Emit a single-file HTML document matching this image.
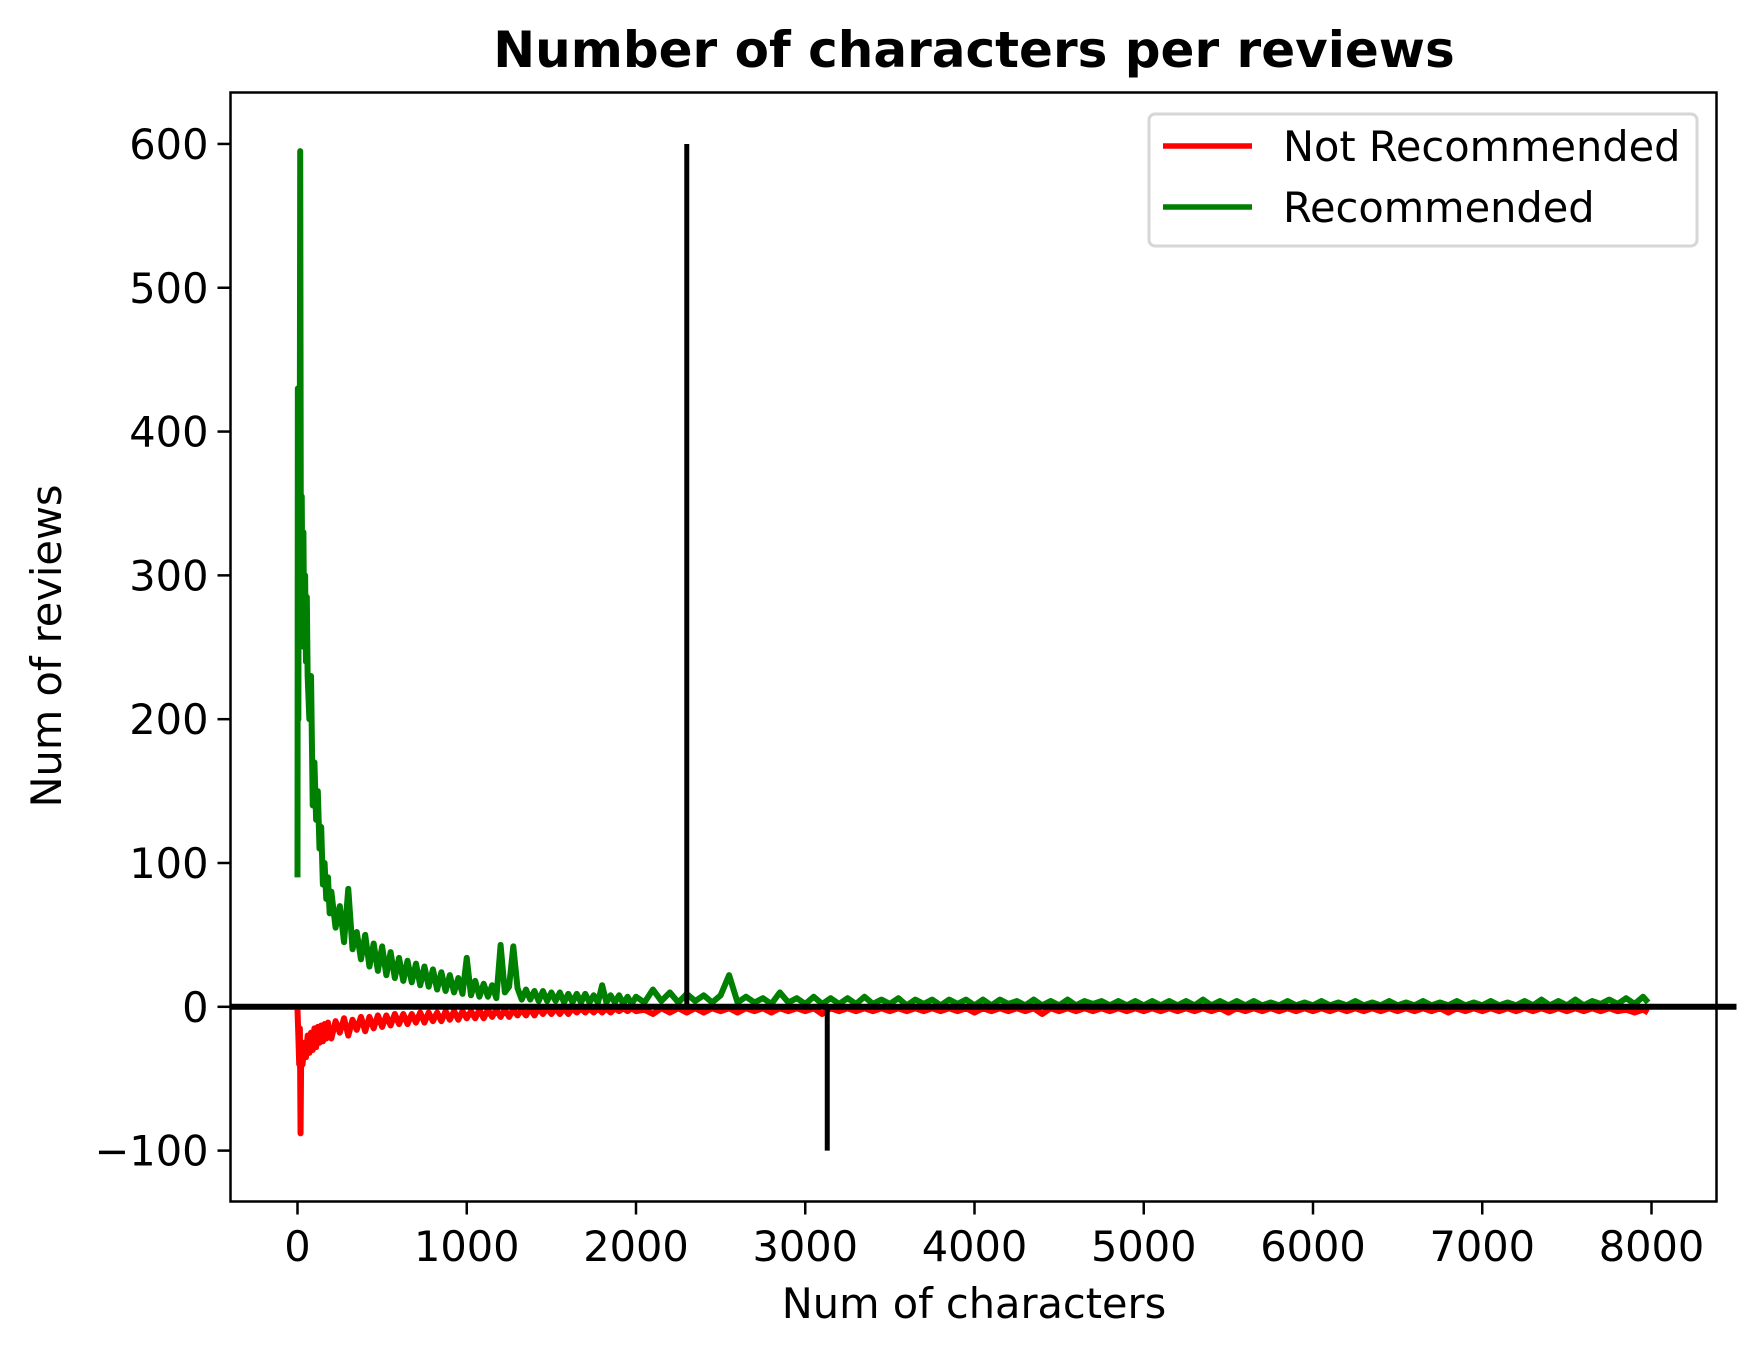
<!DOCTYPE html>
<html><head><meta charset="utf-8">
<style>
html,body{margin:0;padding:0;background:#fff;}
svg{display:block;font-family:"DejaVu Sans","Liberation Sans",sans-serif;}
</style></head>
<body>
<svg id="chart" width="1748" height="1357" viewBox="0 0 1748 1357" xmlns="http://www.w3.org/2000/svg">
<rect x="0" y="0" width="1748" height="1357" fill="#fff"/>
<text x="974" y="67" text-anchor="middle" font-size="50" font-weight="bold">Number of characters per reviews</text>
<g id="plot"></g>
<g id="axes"></g>
<text x="974" y="1318" text-anchor="middle" font-size="41.5">Num of characters</text>
<text transform="translate(61,646) rotate(-90)" text-anchor="middle" font-size="41.5">Num of reviews</text>
<g>
<rect x="1149" y="114" width="548" height="132" rx="6" fill="#fff" stroke="#d6d6d6" stroke-width="3"/>
<line x1="1163" y1="146" x2="1252" y2="146" stroke="#ff0000" stroke-width="5.5"/>
<text x="1283" y="161" font-size="41.5">Not Recommended</text>
<line x1="1163" y1="207" x2="1252" y2="207" stroke="#008000" stroke-width="5.5"/>
<text x="1283" y="222" font-size="41.5">Recommended</text>
</g>
</svg>
<script>
const recEarlyX = [0,2,5,8,12,16,20,25,30,35,40,45,50,55,60,70,80,90,100,110,120,130,140,150,160,170,180,190];
const recEarlyY = [90,430,200,380,250,595,300,355,260,330,250,300,240,285,230,200,230,140,170,130,150,110,125,85,100,75,90,65];
const notEarlyX = [0,5,10,14,18,22,30,40,50,60,70,80,90,100,110,120,130,140,150,160,170,180,190];
const notEarlyY = [-2,-20,-40,-15,-88,-30,-40,-25,-35,-20,-32,-18,-30,-15,-28,-14,-25,-13,-24,-12,-22,-11,-20];
const headX = [200,225,250,275,300,325,350,375,400,425,450,475,500,525,550,575,600,625,650,675,700,725,750,775,800,825,850,875,900,925,950,975,1000,1025,1050,1075,1100,1125,1150,1175,1200,1225,1250,1275,1300,1325,1350,1375,1400,1425,1450,1475,1500,1525,1550,1575,1600,1625,1650,1675,1700,1725,1750,1775,1800,1825,1850,1875,1900,1925,1950,1975,2000];
const recHeadY = [80,55,70,45,82,40,52,33,50,28,44,25,42,22,38,20,34,18,32,17,30,15,28,14,26,12,24,11,22,10,20,9,34,8,18,7,16,7,15,6,43,10,14,42,13,5,12,5,11,4,11,4,10,4,10,3,9,3,9,3,9,3,8,3,15,3,8,3,8,2,7,2,7];
const notHeadY = [-22,-10,-18,-8,-20,-9,-16,-7,-17,-7,-15,-6,-14,-6,-13,-5,-12,-5,-12,-5,-11,-4,-11,-4,-10,-4,-10,-3,-9,-3,-9,-3,-8,-3,-8,-2,-8,-2,-7,-2,-7,-2,-7,-2,-6,-2,-6,-1,-6,-1,-5,-1,-5,-1,-5,-1,-5,-1,-4,-1,-4,-1,-4,-1,-4,-1,-4,-1,-3,-1,-3,-1,-3];
const tailX = [2050,2100,2150,2200,2250,2300,2350,2400,2450,2500,2550,2600,2650,2700,2750,2800,2850,2900,2950,3000,3050,3100,3150,3200,3250,3300,3350,3400,3450,3500,3550,3600,3650,3700,3750,3800,3850,3900,3950,4000,4050,4100,4150,4200,4250,4300,4350,4400,4450,4500,4550,4600,4650,4700,4750,4800,4850,4900,4950,5000,5050,5100,5150,5200,5250,5300,5350,5400,5450,5500,5550,5600,5650,5700,5750,5800,5850,5900,5950,6000,6050,6100,6150,6200,6250,6300,6350,6400,6450,6500,6550,6600,6650,6700,6750,6800,6850,6900,6950,7000,7050,7100,7150,7200,7250,7300,7350,7400,7450,7500,7550,7600,7650,7700,7750,7800,7850,7900,7950,7980];
const recTailY = [3,12,4,10,3,9,4,8,3,8, 22,3,7,3,6,2,10,3,6,2, 7,2,6,2,6,2,7,2,5,2, 6,1,5,2,5,1,5,2,5,1, 5,1,5,2,4,1,5,1,4,1, 5,1,4,2,4,1,4,1,4,1, 4,1,4,1,4,1,5,1,4,1, 4,1,4,1,3,1,4,1,3,1, 4,1,3,1,4,1,3,1,4,1, 3,1,4,1,3,1,4,1,3,1, 4,1,3,1,4,1,5,1,4,1, 5,1,4,2,5,2,6,2,7,3];
const notTailY = [-2,-5,-1,-4,-1,-4,-1,-4,-1,-3, -1,-4,-1,-3,-1,-4,-1,-3,-1,-3, -1,-5,-1,-3,-1,-3,-1,-3,-1,-3, -1,-3,-1,-3,-1,-3,-1,-3,-1,-4, -1,-3,-1,-3,-1,-3,-1,-5,-1,-3, -1,-3,-1,-3,-1,-3,-1,-3,-1,-3, -1,-3,-1,-3,-1,-3,-1,-3,-1,-4, -1,-3,-1,-3,-1,-3,-1,-3,-1,-3, -1,-3,-1,-3,-1,-3,-1,-3,-1,-3, -1,-3,-1,-3,-1,-4,-1,-3,-1,-3, -1,-3,-1,-3,-1,-3,-1,-3,-1,-3, -1,-3,-1,-3,-1,-3,-2,-4,-2,-4];
const xTicks = [0,1000,2000,3000,4000,5000,6000,7000,8000];
const yTicks = [-100,0,100,200,300,400,500,600];
const vLineA = [2300, 0, 600];
const vLineB = [3130, 0, -100];

const NS = "http://www.w3.org/2000/svg";
const L = 230.5, R = 1716.5, T = 92.5, B = 1201.5;
function sx(v){ return 297.5 + v * 0.16925; }
function sy(v){ return 1006.8 - v * 1.4381; }
const plot = document.getElementById('plot');
const axes = document.getElementById('axes');
function mk(tag, attrs, parent){ const e=document.createElementNS(NS,tag); for(const k in attrs) e.setAttribute(k,attrs[k]); parent.appendChild(e); return e; }
function path(xs, ys){ return xs.map((x,i)=>(i?'L':'M')+sx(x).toFixed(2)+','+sy(ys[i]).toFixed(2)).join(''); }

const recX = recEarlyX.concat(headX, tailX), recY = recEarlyY.concat(recHeadY, recTailY);
const notX = notEarlyX.concat(headX, tailX), notY = notEarlyY.concat(notHeadY, notTailY);

const pr = mk('path',{d:path(notX,notY),fill:'none',stroke:'#ff0000','stroke-width':6,'stroke-linejoin':'round'},plot);


const pg = mk('path',{d:path(recX,recY),fill:'none',stroke:'#008000','stroke-width':6,'stroke-linejoin':'round'},plot);


const va = mk('line',{x1:sx(vLineA[0]),x2:sx(vLineA[0]),y1:sy(vLineA[1]),y2:sy(vLineA[2]),stroke:'#000','stroke-width':5},plot);


const vb = mk('line',{x1:sx(vLineB[0]),x2:sx(vLineB[0]),y1:sy(vLineB[1]),y2:sy(vLineB[2]),stroke:'#000','stroke-width':5},plot);


const zl = mk('line',{x1:L,x2:R+20,y1:sy(0),y2:sy(0),stroke:'#000','stroke-width':6},plot);



const fr = mk('rect',{x:L,y:T,width:R-L,height:B-T,fill:'none',stroke:'#000','stroke-width':2.5},axes);


xTicks.forEach(v=>{
  const t = mk('line',{x1:sx(v),x2:sx(v),y1:B,y2:B+13,stroke:'#000','stroke-width':2.5},axes);
  
  
  const tx = mk('text',{x:sx(v),y:1261,'text-anchor':'middle','font-size':41.5},axes);
  tx.textContent = String(v);
  
  
});
yTicks.forEach(v=>{
  const t = mk('line',{x1:L-13,x2:L,y1:sy(v),y2:sy(v),stroke:'#000','stroke-width':2.5},axes);
  
  
  const tx = mk('text',{x:L-22,y:sy(v)+15,'text-anchor':'end','font-size':41.5},axes);
  tx.textContent = v<0 ? '\u2212'+Math.abs(v) : String(v);
  
  
});
</script>
</body></html>
